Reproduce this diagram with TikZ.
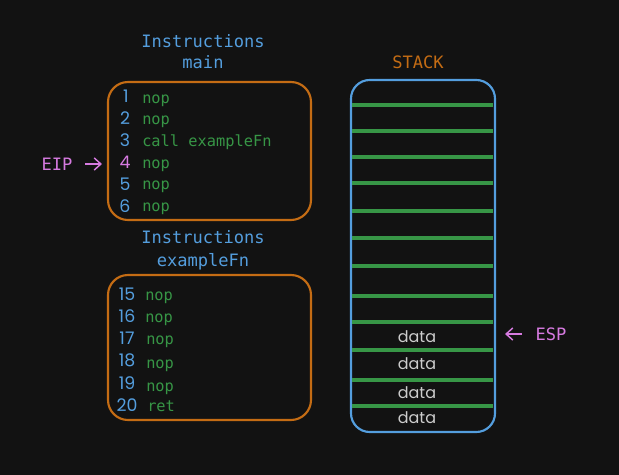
\documentclass[tikz,border=0pt]{standalone}
\usepackage{fontspec}
\setmonofont{DejaVu Sans Mono}
\newfontfamily\handfont{Poppins}
\usetikzlibrary{arrows.meta}
\definecolor{bgdark}{RGB}{18,18,18}
\definecolor{insblue}{RGB}{84,158,222}
\definecolor{opgreen}{RGB}{55,150,70}
\definecolor{frameorange}{RGB}{196,108,20}
\definecolor{ptrpink}{RGB}{214,122,224}
\definecolor{datagray}{RGB}{205,205,205}
\tikzset{>={Straight Barb[length=5pt,width=9pt]}}

\begin{document}
\begin{tikzpicture}[x=0.75pt,y=-0.75pt,
  title/.style={anchor=base,inner sep=0pt,text=insblue,font=\ttfamily\fontsize{12.8}{15}\selectfont},
  num/.style={anchor=base,inner sep=0pt,text=insblue,font=\handfont\fontsize{13}{15}\selectfont},
  op/.style={anchor=base west,inner sep=0pt,text=opgreen,font=\ttfamily\fontsize{11.5}{13}\selectfont},
  data/.style={anchor=base,inner sep=0pt,text=datagray,font=\handfont\fontsize{12}{14}\selectfont},
  ptr/.style={inner sep=0pt,text=ptrpink,font=\ttfamily\fontsize{12.8}{15}\selectfont},
  frame/.style={draw=frameorange,line width=1.6pt,rounded corners=15pt},
  slot/.style={draw=opgreen,line width=2.7pt}]
\useasboundingbox (0,0) rectangle (619,475);
\fill[bgdark] (0,0) rectangle (619,475);

% main
\node[title] (t1) at (203,47) {Instructions};
\node[title] (t1b) at (203,68) {main};
\draw[frame] (108,82) rectangle (311,220);
\node[num] (n1) at (126,102) {1};
\node[num] (n2) at (125,124) {2};
\node[num] (n3) at (125,146) {3};
\node[num,text=ptrpink] (n4) at (125,168) {4};
\node[num] (n5) at (125,190) {5};
\node[num] (n6) at (125,212) {6};
\node[op] (o1) at (142,103) {nop};
\node[op] (o2) at (142,124) {nop};
\node[op] (o3) at (142,146) {call exampleFn};
\node[op] (o4) at (142,168) {nop};
\node[op] (o5) at (142,189) {nop};
\node[op] (o6) at (142,211) {nop};

% EIP
\node[ptr] (eip) at (57,164) {EIP};
\coordinate (eiphead) at (102,164);
\draw[ptrpink,line width=1.1pt,->,shorten <=9.5pt] (eip) -- (eiphead);

% exampleFn
\node[title] (t2) at (203,243) {Instructions};
\node[title] (t2b) at (203,266) {exampleFn};
\draw[frame] (108,275) rectangle (311,420);
\node[num] (n15) at (127,300) {15};
\node[num] (n16) at (127,322) {16};
\node[num] (n17) at (127,344) {17};
\node[num] (n18) at (127,366) {18};
\node[num] (n19) at (127,389) {19};
\node[num] (n20) at (127,411) {20};
\node[op] (o15) at (145,300) {nop};
\node[op] (o16) at (145,322) {nop};
\node[op] (o17) at (146,344) {nop};
\node[op] (o18) at (146,368) {nop};
\node[op] (o19) at (146,391) {nop};
\node[op] (o20) at (147,411) {ret};

% stack
\node[title,text=frameorange] (stk) at (418,68) {STACK};
\draw[insblue,line width=1.6pt,rounded corners=14pt] (351,80) rectangle (495,432);
\draw[slot] (352,105) -- (493,105);
\draw[slot] (352,131) -- (493,131);
\draw[slot] (352,157) -- (493,157);
\draw[slot] (352,183) -- (493,183);
\draw[slot] (352,211) -- (493,211);
\draw[slot] (352,238) -- (493,238);
\draw[slot] (352,266) -- (493,266);
\draw[slot] (352,296) -- (493,296);
\draw[slot] (352,322) -- (493,322);
\draw[slot] (352,350) -- (493,350);
\draw[slot] (352,380) -- (493,380);
\draw[slot] (352,406) -- (493,406);
\node[data] (d1) at (417,342) {data};
\node[data] (d2) at (417,369) {data};
\node[data] (d3) at (417,398) {data};
\node[data] (d4) at (417,423) {data};

% ESP
\node[ptr] (esp) at (551,334) {ESP};
\coordinate (esphead) at (505,334);
\draw[ptrpink,line width=1.1pt,->,shorten <=10pt] (esp) -- (esphead);
\end{tikzpicture}
\end{document}
